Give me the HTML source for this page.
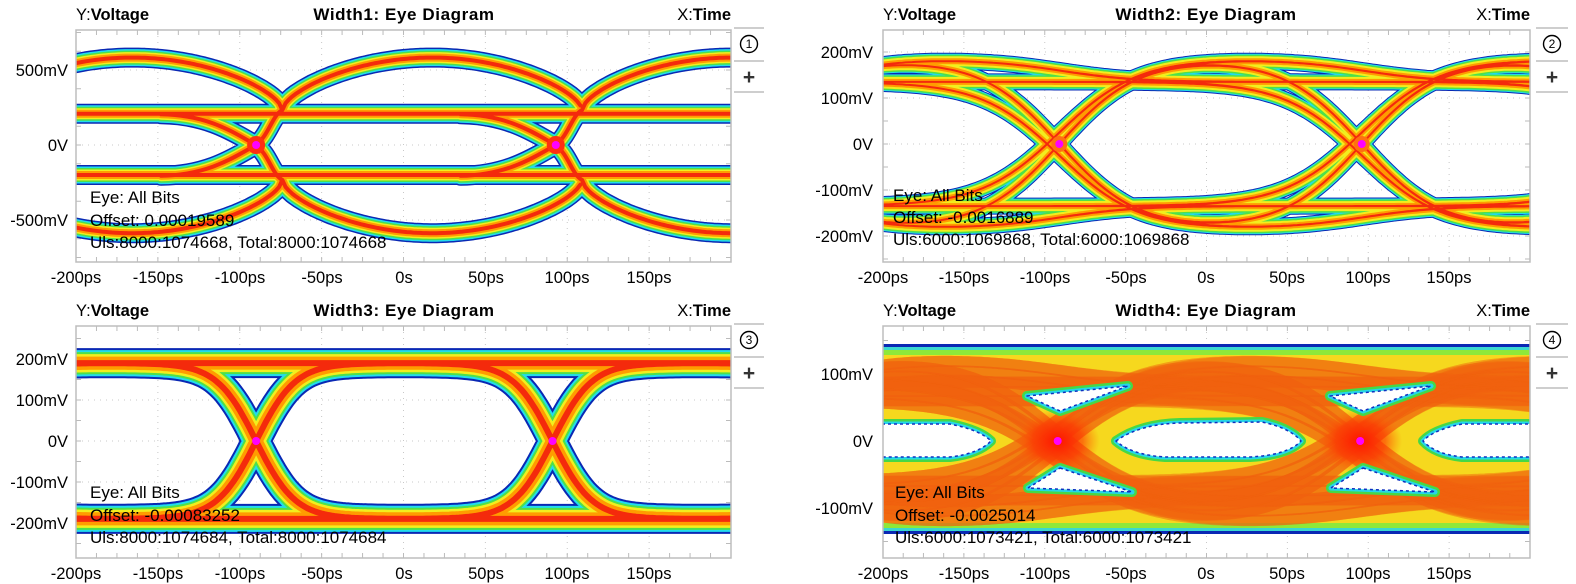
<!DOCTYPE html>
<html><head><meta charset="utf-8">
<style>
html,body{margin:0;padding:0;background:#fff;}
svg{display:block;font-family:"Liberation Sans",Arial,sans-serif;}
.t{font-size:16.5px;fill:#000;}
.b{font-weight:bold;}
.ti{font-size:17px;font-weight:bold;letter-spacing:0.6px;}
.ann{font-size:17px;fill:#000;}
</style></head>
<body>
<svg id="s" width="1576" height="584" viewBox="0 0 1576 584" xmlns="http://www.w3.org/2000/svg">
<defs>
<clipPath id="c1"><rect x="76" y="30" width="655" height="232"/></clipPath>
<clipPath id="c2"><rect x="883" y="30" width="647" height="232"/></clipPath>
<clipPath id="c3"><rect x="76" y="326" width="655" height="232"/></clipPath>
<clipPath id="c4"><rect x="883" y="326" width="647" height="232"/></clipPath>
<radialGradient id="rb"><stop offset="0" stop-color="#ff1000" stop-opacity="0.95"/><stop offset="0.6" stop-color="#ff3000" stop-opacity="0.6"/><stop offset="1" stop-color="#ff6000" stop-opacity="0"/></radialGradient>
</defs>
<rect width="1576" height="584" fill="#fff"/>
<g id="grid"></g>
<g id="p1" clip-path="url(#c1)"></g>
<g id="p2" clip-path="url(#c2)"></g>
<g id="p3" clip-path="url(#c3)"></g>
<g id="p4" clip-path="url(#c4)"></g>
<g id="frames" fill="none" stroke="#bdbdbd" stroke-width="1.5">
<rect x="76" y="30" width="655" height="232"/>
<rect x="883" y="30" width="647" height="232"/>
<rect x="76" y="326" width="655" height="232"/>
<rect x="883" y="326" width="647" height="232"/>
</g>
<g class="t">
<text x="76" y="20">Y:<tspan class="b">Voltage</tspan></text>
<text x="404" y="20" text-anchor="middle" class="ti">Width1: Eye Diagram</text>
<text x="731" y="20" text-anchor="end">X:<tspan class="b">Time</tspan></text>
<text x="883" y="20">Y:<tspan class="b">Voltage</tspan></text>
<text x="1206" y="20" text-anchor="middle" class="ti">Width2: Eye Diagram</text>
<text x="1530" y="20" text-anchor="end">X:<tspan class="b">Time</tspan></text>
<text x="76" y="316">Y:<tspan class="b">Voltage</tspan></text>
<text x="404" y="316" text-anchor="middle" class="ti">Width3: Eye Diagram</text>
<text x="731" y="316" text-anchor="end">X:<tspan class="b">Time</tspan></text>
<text x="883" y="316">Y:<tspan class="b">Voltage</tspan></text>
<text x="1206" y="316" text-anchor="middle" class="ti">Width4: Eye Diagram</text>
<text x="1530" y="316" text-anchor="end">X:<tspan class="b">Time</tspan></text>
</g>
<g class="t" text-anchor="end">
<text x="68" y="76">500mV</text><text x="68" y="151">0V</text><text x="68" y="226">-500mV</text>
<text x="873" y="58">200mV</text><text x="873" y="104">100mV</text><text x="873" y="150">0V</text><text x="873" y="196">-100mV</text><text x="873" y="242">-200mV</text>
<text x="68" y="365">200mV</text><text x="68" y="406">100mV</text><text x="68" y="447">0V</text><text x="68" y="488">-100mV</text><text x="68" y="529">-200mV</text>
<text x="873" y="380">100mV</text><text x="873" y="447">0V</text><text x="873" y="514">-100mV</text>
</g>
<g class="t" text-anchor="middle">
<text x="76" y="283">-200ps</text><text x="158" y="283">-150ps</text><text x="240" y="283">-100ps</text><text x="322" y="283">-50ps</text><text x="404" y="283">0s</text><text x="486" y="283">50ps</text><text x="567" y="283">100ps</text><text x="649" y="283">150ps</text>
<text x="883" y="283">-200ps</text><text x="964" y="283">-150ps</text><text x="1045" y="283">-100ps</text><text x="1126" y="283">-50ps</text><text x="1206" y="283">0s</text><text x="1287" y="283">50ps</text><text x="1368" y="283">100ps</text><text x="1449" y="283">150ps</text>
<text x="76" y="579">-200ps</text><text x="158" y="579">-150ps</text><text x="240" y="579">-100ps</text><text x="322" y="579">-50ps</text><text x="404" y="579">0s</text><text x="486" y="579">50ps</text><text x="567" y="579">100ps</text><text x="649" y="579">150ps</text>
<text x="883" y="579">-200ps</text><text x="964" y="579">-150ps</text><text x="1045" y="579">-100ps</text><text x="1126" y="579">-50ps</text><text x="1206" y="579">0s</text><text x="1287" y="579">50ps</text><text x="1368" y="579">100ps</text><text x="1449" y="579">150ps</text>
</g>
<g class="ann">
<text x="90" y="203">Eye: All Bits</text><text x="90" y="226">Offset: 0.00019589</text><text x="90" y="248">Uls:8000:1074668, Total:8000:1074668</text>
<text x="893" y="201">Eye: All Bits</text><text x="893" y="223">Offset: -0.0016889</text><text x="893" y="245">Uls:6000:1069868, Total:6000:1069868</text>
<text x="90" y="498">Eye: All Bits</text><text x="90" y="521">Offset: -0.00083252</text><text x="90" y="543">Uls:8000:1074684, Total:8000:1074684</text>
<text x="895" y="498">Eye: All Bits</text><text x="895" y="521">Offset: -0.0025014</text><text x="895" y="543">Uls:6000:1073421, Total:6000:1073421</text>
</g>
<g stroke="#b0b0b0" stroke-width="1.2">
<line x1="734" y1="28" x2="764" y2="28"/><line x1="734" y1="61" x2="764" y2="61"/><line x1="734" y1="92" x2="764" y2="92"/>
<line x1="1536" y1="28" x2="1568" y2="28"/><line x1="1536" y1="61" x2="1568" y2="61"/><line x1="1536" y1="92" x2="1568" y2="92"/>
<line x1="734" y1="324" x2="764" y2="324"/><line x1="734" y1="357" x2="764" y2="357"/><line x1="734" y1="388" x2="764" y2="388"/>
<line x1="1536" y1="324" x2="1568" y2="324"/><line x1="1536" y1="357" x2="1568" y2="357"/><line x1="1536" y1="388" x2="1568" y2="388"/>
</g>
<g fill="none" stroke="#000" stroke-width="1.4">
<circle cx="749" cy="44" r="8.5"/><circle cx="1552" cy="44" r="8.5"/><circle cx="749" cy="340" r="8.5"/><circle cx="1552" cy="340" r="8.5"/>
</g>
<g font-size="12" text-anchor="middle" fill="#000">
<text x="749" y="48">1</text><text x="1552" y="48">2</text><text x="749" y="344">3</text><text x="1552" y="344">4</text>
</g>
<g font-size="21" font-weight="bold" text-anchor="middle" fill="#333">
<text x="749" y="84">+</text><text x="1552" y="84">+</text><text x="749" y="380">+</text><text x="1552" y="380">+</text>
</g>
</svg>
<script>
(function(){
var NS="http://www.w3.org/2000/svg";
function el(parent,tag,attrs){var e=document.createElementNS(NS,tag);for(var k in attrs)e.setAttribute(k,attrs[k]);parent.appendChild(e);return e;}
var P={
 1:{x0:76,W:655,yz:145,k:0.15,top:30,bot:262},
 2:{x0:883,W:647,yz:144,k:0.46,top:30,bot:262},
 3:{x0:76,W:655,yz:441,k:0.41,top:326,bot:558},
 4:{x0:883,W:647,yz:441,k:0.67,top:326,bot:558}
};
function X(p,t){return p.x0+(t+200)*p.W/400;}
function Y(p,v){return p.yz-v*p.k;}
var g=document.getElementById('grid');
function grid(p,vstep,vmaj){
 var right=p.x0+p.W;
 for(var t=-150;t<=150;t+=50){el(g,'line',{x1:X(p,t),x2:X(p,t),y1:p.top,y2:p.bot,stroke:'#c8c8c8','stroke-width':1,'stroke-dasharray':'1 5'});}
 for(var v=-1000;v<=1000;v+=vmaj){var y=Y(p,v);if(y>p.top+2&&y<p.bot-2)el(g,'line',{x1:p.x0,x2:right,y1:y,y2:y,stroke:'#c8c8c8','stroke-width':1,'stroke-dasharray':'1 5'});}
 for(var t=-200;t<=200;t+=12.5){var x=X(p,t);el(g,'line',{x1:x,x2:x,y1:p.top,y2:p.top+5,stroke:'#bbb'});el(g,'line',{x1:x,x2:x,y1:p.bot,y2:p.bot-5,stroke:'#bbb'});}
 for(var v=-1000;v<=1000;v+=vstep){var y=Y(p,v);if(y>p.top&&y<p.bot){el(g,'line',{x1:p.x0,x2:p.x0+5,y1:y,y2:y,stroke:'#bbb'});el(g,'line',{x1:right,x2:right-5,y1:y,y2:y,stroke:'#bbb'});}}
}
grid(P[1],125,500);grid(P[2],50,100);grid(P[3],50,100);grid(P[4],50,100);

var COL=['#0a28b4','#22dcec','#4ee04a','#f2ee1e','#ff9c00','#f42a0c'];
function drawLayers(gid,paths,widths){
 var gg=document.getElementById(gid);
 for(var L=0;L<COL.length;L++){
  el(gg,'path',{d:paths.join(' '),fill:'none',stroke:COL[L],'stroke-width':widths[L],'stroke-linecap':'round','stroke-linejoin':'round'});
 }
}
function sample(p,f,t0,t1){var s='';for(var t=t0;t<=t1+0.001;t+=2){s+=(s?'L':'M')+X(p,t).toFixed(1)+','+Y(p,f(t)).toFixed(1);}return s;}
function model(p,a,d,tau,c1,c2,UI,off){
 var B=[c1-UI,c1,c2,c2+UI],out=[];
 for(var m=0;m<32;m++){
  var b=[];for(var i=0;i<5;i++)b.push((m>>i)&1?1:-1);
  var x=[];for(var k=0;k<5;k++)x.push(a*b[k]-d*(k>0?b[k-1]:b[0]));
  (function(x){
   out.push(sample(p,function(t){var v=x[0];for(var k=1;k<5;k++)v+=(x[k]-x[k-1])*0.5*(1+Math.tanh((t-B[k-1])/tau));return v+(off||0);},-204,204));
  })(x);
 }
 return out;
}
(function(){
 var p=P[1],paths=[];
 paths.push(sample(p,function(){return 208;},-204,204));
 paths.push(sample(p,function(){return -200;},-204,204));
 [-257,-74,109].forEach(function(j0){
  paths.push(sample(p,function(t){return 233+350*Math.pow(Math.max(0,Math.sin(Math.PI*(t-j0)/183)),0.6);},Math.max(j0,-204),Math.min(j0+183,204)));
  paths.push(sample(p,function(t){return -233-355*Math.pow(Math.max(0,Math.sin(Math.PI*(t-j0)/183)),0.6);},Math.max(j0,-204),Math.min(j0+183,204)));
 });
 [-90,93].forEach(function(c){
  [1,-1].forEach(function(s){
   var pts=[[c-58,205*s],[c-28,200*s],[c-12,70*s],[c,0],[c+8,-70*s],[c+10,-200*s],[c+16,-233*s]];
   var q=pts.map(function(a){return X(p,a[0]).toFixed(1)+','+Y(p,a[1]).toFixed(1);});
   paths.push('M'+q[0]+'C'+q[1]+' '+q[2]+' '+q[3]+'C'+q[4]+' '+q[5]+' '+q[6]);
  });
 });
 drawLayers('p1',paths,[20,17,14,11,8,4]);
 var gg=document.getElementById('p1');
 [-90,93].forEach(function(c){el(gg,'circle',{cx:X(p,c),cy:Y(p,0),r:9,fill:'#ff3010'});el(gg,'circle',{cx:X(p,c),cy:Y(p,0),r:4,fill:'#ff00ff'});});
})();
(function(){
 var p=P[2];
 drawLayers('p2',model(p,160,25,48,-91,96,187),[17,15,13,10,6,2]);
 var gg=document.getElementById('p2');
 [-91,96].forEach(function(c){el(gg,'circle',{cx:X(p,c),cy:Y(p,0),r:8,fill:'#ff7010'});el(gg,'circle',{cx:X(p,c),cy:Y(p,0),r:4,fill:'#ff00ff'});});
})();
(function(){
 var p=P[3];
 drawLayers('p3',model(p,190,0,24,-90,91,181),[30,26,22,18,13,6]);
 var gg=document.getElementById('p3');
 [-90,91].forEach(function(c){el(gg,'circle',{cx:X(p,c),cy:Y(p,0),r:4,fill:'#ff00ff'});});
})();
(function(){
 var p=P[4],gg=document.getElementById('p4');
 el(gg,'rect',{x:883,y:344,width:647,height:190,fill:'#0a28b4'});
 el(gg,'rect',{x:883,y:347,width:647,height:184,fill:'#3ad8d0'});
 el(gg,'rect',{x:883,y:350,width:647,height:178,fill:'#8ee83a'});
 el(gg,'rect',{x:883,y:355,width:647,height:168,fill:'#f6d81e'});
 [-14,0,14].forEach(function(o){
  model(p,92,18,55,-92,95,187,o).forEach(function(d){
   el(gg,'path',{d:d,fill:'none',stroke:'#f06010','stroke-width':11,'stroke-opacity':0.28});
  });
 });
 [-92,95].forEach(function(c){el(gg,'ellipse',{cx:X(p,c),cy:Y(p,0),rx:42,ry:32,fill:'url(#rb)'});});
 var holes=[
  'M1116,441 Q1140,424 1180,423 L1262,422 Q1290,428 1301,441 Q1288,455 1250,457 L1165,457 Q1132,455 1116,441Z',
  'M870,424 L950,424 Q980,430 991,441 Q978,454 950,457 L870,457Z',
  'M1540,424 L1462,424 Q1433,430 1423,441 Q1435,454 1462,457 L1540,457Z',
  'M1027,396 L1128,386 L1060,411Z','M1330,396 L1431,386 L1363,411Z',
  'M1060,468 L1132,492 L1028,488Z','M1363,468 L1435,492 L1331,488Z'
 ];
 holes.forEach(function(d){el(gg,'path',{d:d,fill:'none',stroke:'#46d846','stroke-width':10,'stroke-linejoin':'round'});});
 holes.forEach(function(d){el(gg,'path',{d:d,fill:'none',stroke:'#26d6e8','stroke-width':5,'stroke-linejoin':'round'});});
 holes.forEach(function(d){el(gg,'path',{d:d,fill:'#fff',stroke:'#1030c0','stroke-width':1.5,'stroke-linejoin':'round','stroke-dasharray':'3 3'});});
 [-92,95].forEach(function(c){el(gg,'circle',{cx:X(p,c),cy:Y(p,0),r:4,fill:'#ff00ff'});});
})();
})();
</script>
</body></html>
